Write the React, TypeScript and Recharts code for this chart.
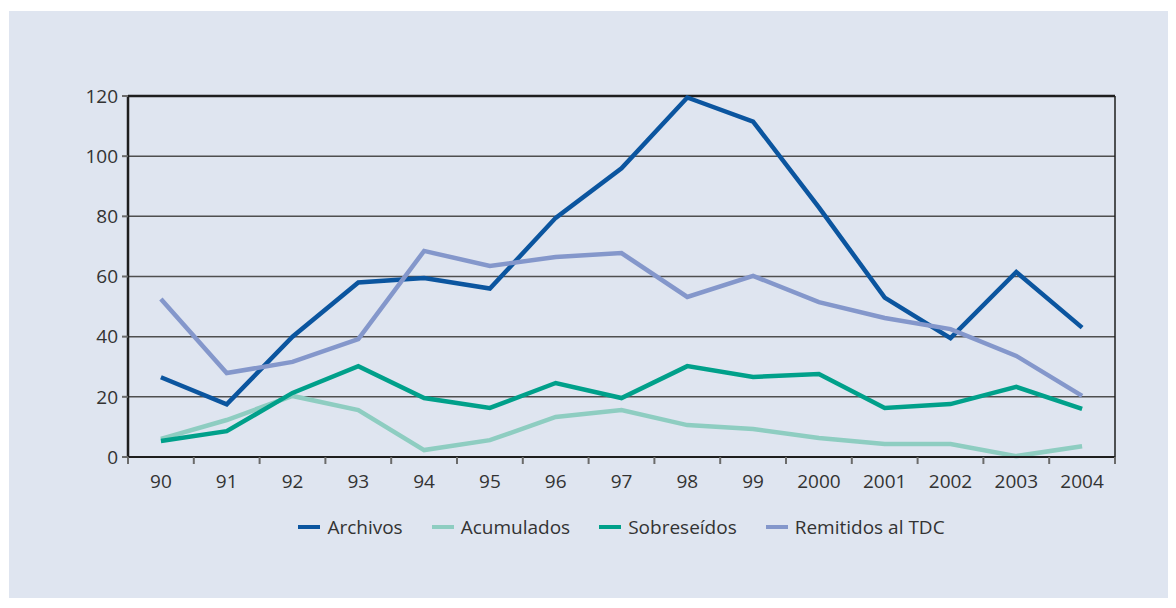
import React from 'react';
import {
    LineChart,
    Line,
    XAxis,
    YAxis,
    CartesianGrid,
    ReferenceLine,
} from 'recharts';

const years = ['90', '91', '92', '93', '94', '95', '96', '97', '98', '99', '2000', '2001', '2002', '2003', '2004'];
const archivos = [26.5, 17.5, 40, 58, 59.5, 56, 79.5, 96, 119.5, 111.5, 83, 53, 39.5, 61.5, 43];
const acumulados = [6, 12.3, 20.3, 15.6, 2.3, 5.6, 13.3, 15.6, 10.6, 9.3, 6.3, 4.3, 4.3, 0.3, 3.6];
const sobreseidos = [5.3, 8.6, 21.3, 30.2, 19.6, 16.3, 24.6, 19.6, 30.2, 26.6, 27.6, 16.3, 17.6, 23.3, 16];
const remitidos = [52.5, 27.9, 31.6, 39.2, 68.5, 63.5, 66.5, 67.8, 53.2, 60.2, 51.5, 46.2, 42.5, 33.6, 20.3];
const yTicks = [0, 20, 40, 60, 80, 100, 120];

const series = [
    { key: 'archivos', name: 'Archivos', color: '#0b559f' },
    { key: 'acumulados', name: 'Acumulados', color: '#8ecdc1' },
    { key: 'sobreseidos', name: 'Sobreseídos', color: '#00a08a' },
    { key: 'remitidos', name: 'Remitidos al TDC', color: '#8497cb' },
];

const data = years.map((y, i) => ({
    i,
    year: y,
    archivos: archivos[i],
    acumulados: acumulados[i],
    sobreseidos: sobreseidos[i],
    remitidos: remitidos[i],
}));

// labels sit on the integers, tick marks on the half steps between them
const xTicks: number[] = [];
for (let k = -0.5; k <= years.length - 0.5; k += 0.5) xTicks.push(k);

const XTick = (props: any) => {
    const { x, y, payload } = props;
    const v = payload.value;
    if (Number.isInteger(v)) {
        return (
            <text x={x} y={y + 31} textAnchor="middle" fill="#333" fontSize={19}>
                {years[v]}
            </text>
        );
    }
    return <line x1={x} x2={x} y1={y} y2={y + 7} stroke="#6b6b6b" strokeWidth={2} />;
};

export default function App() {
    return (
        <div
            style={{
                position: 'absolute',
                left: 0,
                top: 0,
                width: 1176,
                height: 608,
                background: '#ffffff',
                fontFamily: '"Open Sans", sans-serif',
            }}
        >
            <div
                style={{
                    position: 'absolute',
                    left: 9,
                    top: 11,
                    width: 1159,
                    height: 587,
                    background: '#dfe5f0',
                }}
            />
            <div style={{ position: 'absolute', left: 0, top: 0 }}>
                <LineChart
                    width={1176}
                    height={608}
                    data={data}
                    margin={{ top: 96, right: 61, left: 68, bottom: 111 }}
                >
                    <CartesianGrid vertical={false} stroke="#4f4f4f" strokeWidth={1.5} />
                    <XAxis
                        type="number"
                        dataKey="i"
                        domain={[-0.5, years.length - 0.5]}
                        ticks={xTicks}
                        interval={0}
                        tickSize={0}
                        tickMargin={0}
                        tickLine={false}
                        tick={<XTick />}
                        axisLine={{ stroke: '#1e1e1e', strokeWidth: 2 }}
                        height={40}
                    />
                    <YAxis
                        domain={[0, 120]}
                        ticks={yTicks}
                        width={60}
                        tickSize={6}
                        tickMargin={4}
                        tick={{ fill: '#333', fontSize: 19 }}
                        tickLine={{ stroke: '#6b6b6b', strokeWidth: 2 }}
                        axisLine={{ stroke: '#1e1e1e', strokeWidth: 2.5 }}
                    />
                    <ReferenceLine y={120} stroke="#1e1e1e" strokeWidth={2.5} />
                    <ReferenceLine x={years.length - 0.5} stroke="#1e1e1e" strokeWidth={1.5} />
                    {series.map((s) => (
                        <Line
                            key={s.key}
                            type="linear"
                            dataKey={s.key}
                            name={s.name}
                            stroke={s.color}
                            strokeWidth={4.5}
                            dot={false}
                            activeDot={false}
                            isAnimationActive={false}
                        />
                    ))}
                </LineChart>
            </div>
            <div
                style={{
                    position: 'absolute',
                    left: 128,
                    width: 987,
                    top: 514,
                    display: 'flex',
                    justifyContent: 'center',
                    alignItems: 'center',
                    gap: 29,
                    fontSize: 19,
                    color: '#333',
                }}
            >
                {series.map((s) => (
                    <div key={s.key} style={{ display: 'flex', alignItems: 'center' }}>
                        <span
                            style={{
                                display: 'inline-block',
                                width: 22,
                                height: 4.5,
                                background: s.color,
                                marginRight: 7,
                            }}
                        />
                        <span>{s.name}</span>
                    </div>
                ))}
            </div>
        </div>
    );
}
